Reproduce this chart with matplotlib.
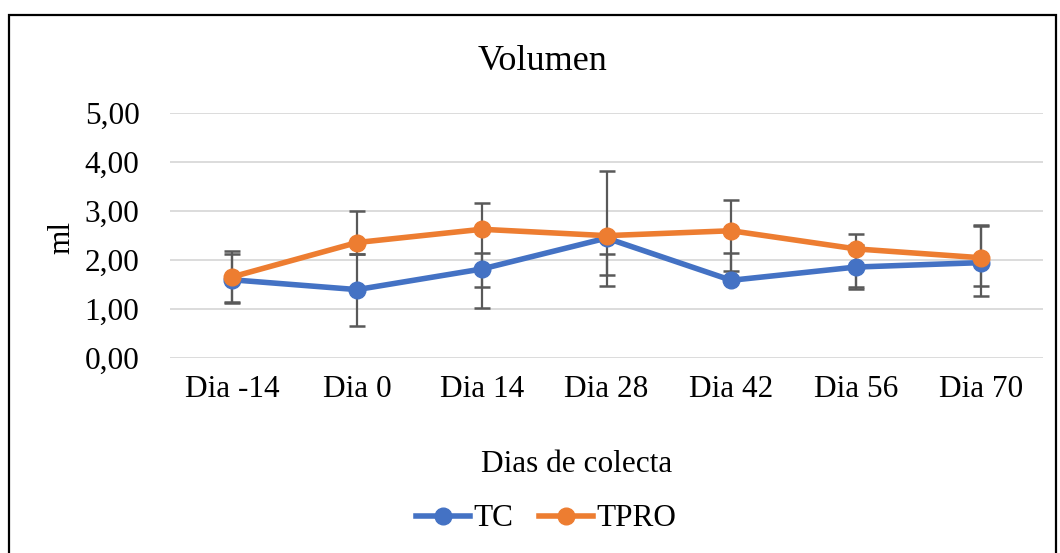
import matplotlib.pyplot as plt
from matplotlib.patches import Rectangle
from matplotlib.ticker import FuncFormatter

dias = ["Dia -14", "Dia 0", "Dia 14", "Dia 28", "Dia 42", "Dia 56", "Dia 70"]

tc = [1.60, 1.40, 1.82, 2.45, 1.59, 1.86, 1.95]
tpro = [1.66, 2.36, 2.63, 2.50, 2.60, 2.23, 2.05]

# extremos de las barras de error
tc_alto = [2.12, 2.13, 2.14, 2.13, 2.14, 2.31, 2.70]
tc_bajo = [1.12, 0.66, 1.03, 1.48, 1.55, 1.41, 1.27]
tpro_alto = [2.19, 3.01, 3.16, 3.81, 3.22, 2.54, 2.72]
tpro_bajo = [1.14, 2.13, 1.46, 1.69, 1.78, 1.46, 1.48]

azul = "#4472C4"
naranja = "#ED7D31"
gris = "#595959"

plt.rcParams['font.family'] = ['Liberation Serif', 'DejaVu Serif']

fig = plt.figure(figsize=(10.6, 5.53), dpi=100)
ax = fig.add_axes([170 / 1060, 1 - 358.3 / 553, 873 / 1060, 245.3 / 553])

x = list(range(len(dias)))

# barras de error
for alto, bajo in [(tc_alto, tc_bajo), (tpro_alto, tpro_bajo)]:
    ax.vlines(x, bajo, alto, color=gris, linewidth=1.6, zorder=2)
    ax.plot(x, alto, linestyle="none", marker="_", markersize=11, markeredgewidth=1.8, color=gris, zorder=2)
    ax.plot(x, bajo, linestyle="none", marker="_", markersize=11, markeredgewidth=1.8, color=gris, zorder=2)

ax.plot(x, tc, color=azul, linewidth=4.0, marker="o", markersize=12, label="TC", zorder=3)
ax.plot(x, tpro, color=naranja, linewidth=4.0, marker="o", markersize=12, label="TPRO", zorder=4)

ax.set_xlim(-0.5, len(dias) - 0.5)
ax.set_ylim(0, 5)
ax.set_yticks([0, 1, 2, 3, 4, 5])
ax.yaxis.set_major_formatter(FuncFormatter(lambda v, p: f"{v:.2f}".replace(".", ",")))
ax.set_xticks(x)
ax.set_xticklabels(dias)
ax.grid(axis="y", color="#d9d9d9", linewidth=1.3, zorder=0)
ax.set_axisbelow(True)
for s in ax.spines.values():
    s.set_visible(False)
ax.tick_params(axis="both", length=0, labelsize=22.5)
ax.tick_params(axis="y", pad=22)
ax.tick_params(axis="x", pad=12)

fig.text(542 / 1060, 1 - 61 / 553, "Volumen", ha="center", va="center", fontsize=26)
fig.text(577 / 1060, 1 - 464 / 553, "Dias de colecta", ha="center", va="center", fontsize=22.5)
fig.text(62 / 1060, 1 - 237 / 553, "ml", ha="center", va="center", rotation=90, fontsize=22.5)

fig.legend(loc="center", bbox_to_anchor=(546 / 1060, 1 - 519 / 553), ncol=2, frameon=False,
           fontsize=22.5, handlelength=1.75, handletextpad=0.1, columnspacing=0.8)

fig.add_artist(Rectangle((8.5 / 1060, -0.02), 1047 / 1060, 1.02 - 14.5 / 553, transform=fig.transFigure,
                         fill=False, edgecolor="black", linewidth=1.6))

fig.savefig("out.png", dpi=100)
